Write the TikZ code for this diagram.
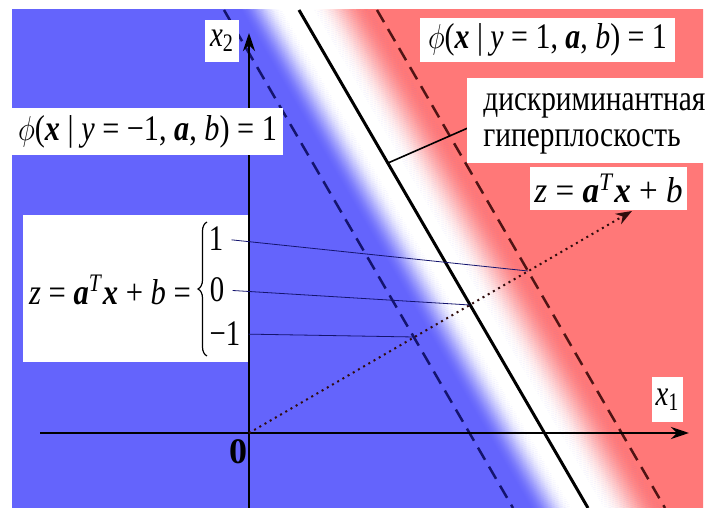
\documentclass[tikz,border=0pt]{standalone}
\usepackage{fontspec}
\setmainfont{Liberation Serif}
\usepackage{graphicx}
\usetikzlibrary{arrows.meta,decorations.pathreplacing}
\definecolor{bgblue}{RGB}{100,100,252}
\definecolor{bgred}{RGB}{255,120,120}
\definecolor{navyline}{RGB}{20,20,110}
\definecolor{dredline}{RGB}{80,20,20}
\newcommand\mi[1]{\textit{#1}}
\newcommand\mbf[1]{\textbf{\textit{#1}}}
\newcommand\sq[2][0.8]{\scalebox{#1}[1]{#2}}
\begin{document}
\begin{tikzpicture}[x=0.5pt,y=-0.5pt,
  every node/.style={font=\fontsize{18}{21}\selectfont},
  lbl/.style={fill=white, inner sep=0pt},
  num/.style={inner sep=0pt},
  sepline/.style={line width=1.5pt},
  bdash/.style={line width=1.25pt, navyline, dash pattern=on 7pt off 4pt},
  rdash/.style={line width=1.25pt, dredline, dash pattern=on 7pt off 4pt},
  axisline/.style={line width=1.3pt, -{Stealth[length=9pt,width=6pt]}},
  proj/.style={line width=0.4pt, navyline, shorten <=4pt},
  zarr/.style={line width=1pt, dotted, dredline!60!black, -{Stealth[length=8pt,width=6pt]}},
  leader/.style={line width=0.8pt},
  bigbrace/.style={line width=0.6pt, decorate, decoration={brace, amplitude=4.5pt}}
]
\useasboundingbox (0,0) rectangle (709,508);
% background with gradient band, built from thin strips
\begin{scope}
  \clip (12,10) rectangle (703,508);
  \fill[bgblue] (12,10) rectangle (703,508);
  \begin{scope}[transform canvas={rotate around={30.2:(299,10)}}]
    \fill[bgblue] (-1200,-1500) rectangle (248,1500);
    \foreach \i in {0,...,37}{
      \pgfmathsetmacro\p{100*(0.5-0.5*cos(180*\i/37))}
      \fill[white!\p!bgblue] (247+\i,-1500) rectangle (248.3+\i,1500);
    }
    \fill[white] (284,-1500) rectangle (312,1500);
    \foreach \i in {0,...,50}{
      \pgfmathsetmacro\p{100*(0.5-0.5*cos(180*\i/50))}
      \fill[bgred!\p!white] (311+\i,-1500) rectangle (312.3+\i,1500);
    }
    \fill[bgred] (361,-1500) rectangle (2200,1500);
  \end{scope}
\end{scope}
% big formula box
\node[lbl, minimum width=112.5pt, minimum height=73.5pt] (zbox) at (135.5,288.5) {};
% coordinates of the lines
\coordinate (bT) at (224,10);  \coordinate (bB) at (513,508);
\coordinate (sT) at (299,10);  \coordinate (sB) at (588,508);
\coordinate (rT) at (377,10);  \coordinate (rB) at (665,508);
\coordinate (xS) at (40,433);  \coordinate (xE) at (689,433);
\coordinate (yS) at (249,508); \coordinate (yE) at (249,33);
\coordinate (O) at (249,433);  \coordinate (zE) at (632,211);
\coordinate (c1) at (528,271); \coordinate (c0) at (470,305); \coordinate (cm) at (414,337);
\coordinate (sL) at (388,163); \coordinate (dL) at (477,124);
\coordinate (brB) at (207,356); \coordinate (brT) at (207,222);
% formula parts
\node (zeq) at (110,290) {\sq[0.85]{\mi{z} = \mbf{a}\textsuperscript{\mi{T}}\mbf{x} + \mi{b} =}};
\draw[bigbrace] (brB) -- (brT);
\node[num] (n1) at (216,239) {\sq{1}};
\node[num] (n0) at (217,290) {\sq{0}};
\node[num] (nm) at (225,334) {\sq{−1}};
% lines
\draw[bdash] (bT) -- (bB);
\draw[rdash] (rT) -- (rB);
\draw[sepline] (sT) -- (sB);
\draw[axisline] (xS) -- (xE);
\draw[axisline] (yS) -- (yE);
\draw[zarr] (O) -- (zE);
\draw[proj] (n1.east) -- (c1);
\draw[proj] (n0.east) -- (c0);
\draw[proj] (nm.east) -- (cm);
\draw[leader] (sL) -- (dL);
% labels
\node[lbl, minimum width=135.5pt, minimum height=23.5pt] (phim) at (147.5,131.5)
  {\sq[0.84]{$\phi$(\mbf{x} | \mi{y} = −1, \mbf{a}, \mi{b}) = 1}};
\node[lbl, minimum width=127.5pt, minimum height=22pt] (phip) at (547.5,40)
  {\sq[0.83]{$\phi$(\mbf{x} | \mi{y} = 1, \mbf{a}, \mi{b}) = 1}};
\node[lbl, minimum width=17pt, minimum height=21pt] (xtwo) at (222,41)
  {\sq{\mi{x}\textsubscript{2}}};
\node[lbl, minimum width=15.5pt, minimum height=22.5pt] (xone) at (667.5,399.5)
  {\sq{\mi{x}\textsubscript{1}}};
\node[lbl, minimum width=78.5pt, minimum height=21.5pt] (zlab) at (608.5,188.5)
  {\sq[0.92]{\mi{z} = \mbf{a}\textsuperscript{\mi{T}}\mbf{x} + \mi{b}}};
\node[lbl, anchor=west, inner xsep=0pt, minimum height=42.5pt] (disc) at (467,120.5)
  {\hspace*{8pt}\sq[0.815]{\begin{tabular}{@{}l@{}}дискриминантная\\[-3pt]гиперплоскость\end{tabular}}};
\node (orig) at (238,452) {\textbf{0}};
\end{tikzpicture}
\end{document}
